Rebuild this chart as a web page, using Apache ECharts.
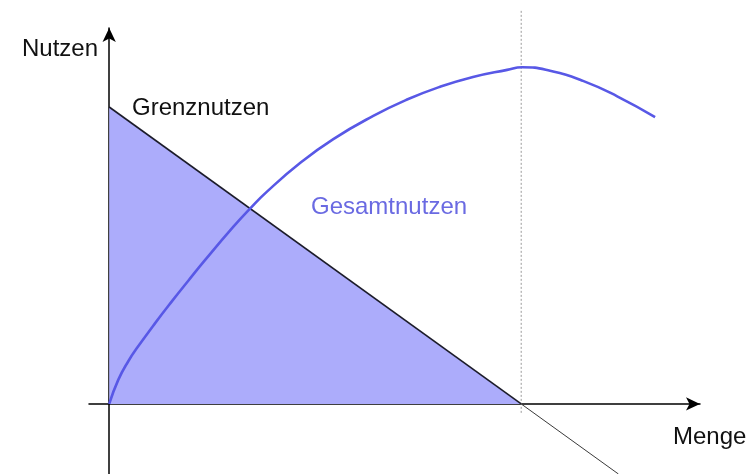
<!DOCTYPE html>
<html>
<head>
<meta charset="utf-8">
<script src="https://cdn.jsdelivr.net/npm/echarts@6/dist/echarts.min.js"></script>
<style>
  html, body { margin: 0; padding: 0; background: #fff; }
  #chart { width: 756px; height: 474px; }
</style>
</head>
<body>
<div id="chart"></div>
<script>
// Grenznutzen (marginal utility) - straight line, falls to zero at the saturation point
const grenzPoints = [[0, 10], [10, 0]];
const grenzTail = [[10, 0], [12.36, -2.36]];
// Gesamtnutzen (total utility)
const gesamtX = [0, 0.22, 0.46, 0.7, 1.12, 1.53, 1.92, 2.33, 3.01, 3.42, 3.83, 4.64, 5.44, 6.41, 7.23, 8.03, 8.83, 9.66, 10.02, 10.7, 11.5, 12.33, 13.25];
const gesamtY = [0, 0.81, 1.43, 1.93, 2.73, 3.47, 4.15, 4.85, 5.96, 6.58, 7.15, 8.12, 8.92, 9.7, 10.25, 10.68, 11.01, 11.25, 11.34, 11.22, 10.88, 10.36, 9.66];
// saturation quantity (dotted guide)
const saettigung = [[10, -0.3], [10, 13.27]];

const labels = {
  yName: 'Nutzen',
  xName: 'Menge',
  grenz: 'Grenznutzen',
  gesamt: 'Gesamtnutzen'
};

const gesamtData = gesamtX.map((x, i) => [x, gesamtY[i]]);

const chart = echarts.init(document.getElementById('chart'));
const font = '"Liberation Sans", Arial, sans-serif';

const hiddenAxis = {
  type: 'value',
  show: false,
  splitLine: { show: false }
};

const option = {
  animation: false,
  backgroundColor: '#fff',
  grid: [
    { left: 89, right: 56, top: 28, bottom: 0 },
    { left: 89, right: 56, top: 10, bottom: 0 }
  ],
  xAxis: [
    {
      type: 'value', gridIndex: 0, min: -0.49, max: 14.34,
      axisLine: { onZero: true, symbol: ['none', 'arrow'], symbolSize: [10, 14], lineStyle: { color: '#000', width: 1.5 } },
      axisTick: { show: false }, axisLabel: { show: false }, splitLine: { show: false }
    },
    Object.assign({ gridIndex: 1, min: -0.49, max: 14.34 }, hiddenAxis)
  ],
  yAxis: [
    {
      type: 'value', gridIndex: 0, min: -2.36, max: 12.66,
      axisLine: { onZero: true, symbol: ['none', 'arrow'], symbolSize: [10, 14], lineStyle: { color: '#000', width: 1.5 } },
      axisTick: { show: false }, axisLabel: { show: false }, splitLine: { show: false }
    },
    Object.assign({ gridIndex: 1, min: -2.36, max: 13.27 }, hiddenAxis)
  ],
  series: [
    {
      name: labels.grenz,
      type: 'line',
      data: grenzPoints,
      showSymbol: false,
      silent: true,
      lineStyle: { color: '#1c1c2a', width: 1.6 },
      areaStyle: { color: '#acacfb', opacity: 1 },
      z: 2
    },
    {
      type: 'line',
      data: grenzTail,
      showSymbol: false,
      silent: true,
      clip: false,
      lineStyle: { color: '#3a3a3a', width: 1 },
      z: 2
    },
    {
      name: labels.gesamt,
      type: 'line',
      data: gesamtData,
      smooth: 0.5,
      showSymbol: false,
      silent: true,
      lineStyle: { color: '#5858e6', width: 2.6 },
      z: 3
    },
    {
      type: 'line',
      xAxisIndex: 1,
      yAxisIndex: 1,
      data: saettigung,
      showSymbol: false,
      silent: true,
      lineStyle: { color: '#9a9a9a', width: 1, type: [2, 2] },
      z: 1
    }
  ],
  graphic: [
    { type: 'text', left: 22, top: 37, style: { text: labels.yName, font: '24px ' + font, fill: '#111' } },
    { type: 'text', left: 132, top: 96, style: { text: labels.grenz, font: '24px ' + font, fill: '#111' } },
    { type: 'text', left: 311, top: 195, style: { text: labels.gesamt, font: '24px ' + font, fill: '#6a6ae2' } },
    { type: 'text', left: 673, top: 425, style: { text: labels.xName, font: '24px ' + font, fill: '#111' } }
  ]
};

chart.setOption(option);
</script>
</body>
</html>
